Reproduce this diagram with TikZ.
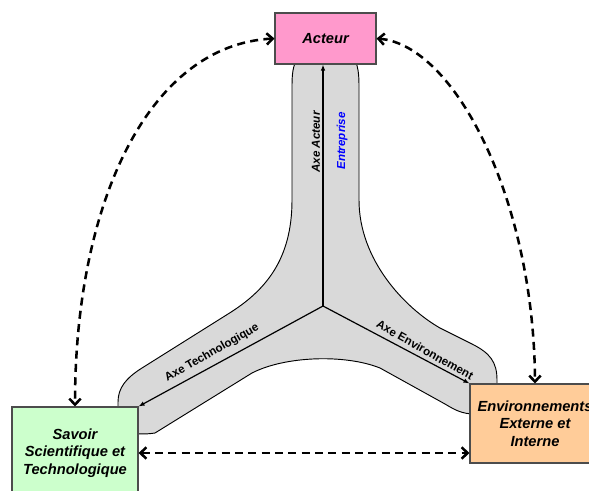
\documentclass[tikz,border=0pt]{standalone}
\usepackage{fontspec}
\setmainfont{Liberation Sans}
\usetikzlibrary{arrows.meta}
\definecolor{acteurrose}{HTML}{FF99CC}
\definecolor{savoirvert}{HTML}{CCFFCC}
\definecolor{envorange}{HTML}{FFCC99}
\definecolor{brasgris}{HTML}{D9D9D9}
\tikzset{
  boite/.style={draw=black!70, line width=0.8pt, align=center, inner sep=0pt,
    font=\fontsize{11}{13}\selectfont\bfseries\itshape},
  axe/.style={line width=0.9pt, -{Latex[length=4.5pt,width=3.5pt]}},
  lien/.style={line width=1.9pt, dash pattern=on 6pt off 4pt,
    {Straight Barb[length=4.5pt,width=8.5pt]}-{Straight Barb[length=4.5pt,width=8.5pt]}},
  etiq/.style={font=\fontsize{8.7}{10}\selectfont\bfseries, inner sep=0pt}
}
\begin{document}
\begin{tikzpicture}[x=0.75pt,y=-0.75pt]
            \useasboundingbox (0,0) rectangle (589,490);
            \fill[white] (0,0) rectangle (589,490);
            \draw[fill=brasgris,line width=0.7pt] (300,55) .. controls (294,62) and (292,70) .. (292,85) -- (292,200)
                .. controls (292,260) and (265,291) .. (228,314) -- (142,368)
                .. controls (126,378) and (118,388) .. (118,402) -- (118,420)
                .. controls (118,432) and (135,436) .. (155,433) -- (252,373)
                .. controls (285,356) and (345,354) .. (380,368) -- (445,404)
                .. controls (455,410) and (462,414) .. (475,414) -- (497,400) -- (497,380)
                .. controls (497,362) and (490,353) .. (472,344) -- (440,328)
                .. controls (405,308) and (359,260) .. (359,200) -- (359,85)
                .. controls (359,70) and (357,62) .. (352,55) -- cycle;
            \coordinate (centre) at (323,306);
            \node[boite,fill=acteurrose,minimum width=75.75pt,minimum height=38.25pt] (acteur) at (325.5,38.5) {Acteur};
            \node[boite,fill=savoirvert,minimum width=94.5pt,minimum height=69pt] (savoir) at (75,453) {Savoir\\Scientifique et\\Technologique};
            \node[boite,fill=envorange,minimum width=97.5pt,minimum height=59.25pt] (env) at (535,423.5) {Environnements\\Externe et\\Interne};
            \draw[axe] (centre) -- (centre |- acteur.south);
            \draw[axe] (centre) -- (savoir.north east);
            \draw[axe] (centre) -- (env.north west);
            \node[etiq,rotate=90] (axeacteur) at (316,142) {\itshape Axe Acteur};
            \node[etiq,rotate=90,text=blue] (entreprise) at (342,141) {\itshape Entreprise};
            \node[etiq,rotate=29.7] (axetechno) at (212,353) {Axe Technologique};
            \node[etiq,rotate=-29.4] (axeenv) at (425,350) {Axe Environnement};
            \draw[lien] (acteur.west) .. controls (150,45) and (75,200) .. (savoir.north);
            \draw[lien] (acteur.east) .. controls (455,45) and (534,200) .. (env.north);
            \draw[lien] (savoir.east) -- (savoir.east -| env.west);
        \end{tikzpicture}
\end{document}
